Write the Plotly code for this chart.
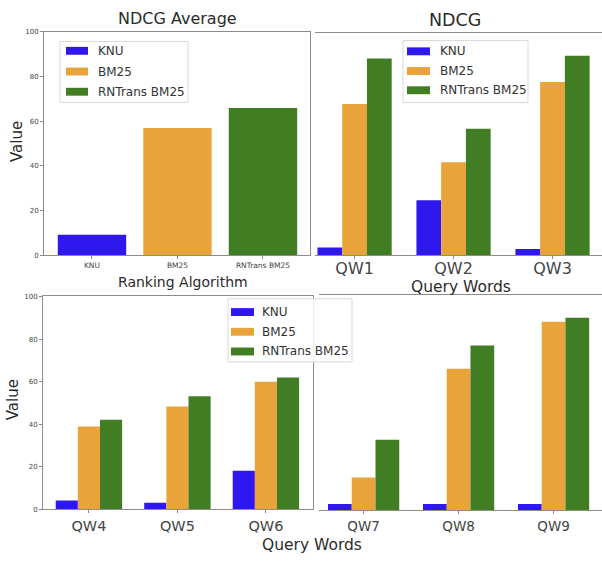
import plotly.graph_objects as go

W, H = 602, 563

# Ranking algorithms and their colours
algorithms = ["KNU", "BM25", "RNTrans BM25"]
colors = ["#2f17ef", "#e8a33b", "#417d22"]

# Average NDCG per algorithm
avg_ndcg = [9.2, 57.0, 66.0]

# NDCG per query word
queries_top = ["QW1", "QW2", "QW3"]
knu_top = [3.5, 24.8, 2.9]
bm25_top = [68.0, 41.8, 77.8]
rntrans_top = [88.4, 56.8, 89.6]

queries_bl = ["QW4", "QW5", "QW6"]
knu_bl = [4.2, 3.1, 18.2]
bm25_bl = [38.9, 48.3, 60.0]
rntrans_bl = [42.1, 53.2, 62.0]

queries_br = ["QW7", "QW8", "QW9"]
knu_br = [2.8, 2.8, 2.8]
bm25_br = [15.2, 65.9, 87.8]
rntrans_br = [32.8, 76.7, 89.6]

y_ticks = [0, 20, 40, 60, 80, 100]

SPINE = "#8c8c8c"
TEXT = "#2b2b2b"
TICK_TEXT = "#444444"
FONT = "DejaVu Sans"


def px(x):
    return x / W


def py(y):
    return 1 - y / H


fig = go.Figure()

# Panel 1: average NDCG
fig.add_trace(go.Bar(x=algorithms, y=avg_ndcg, marker_color=colors,
                     marker_line_width=0, width=0.8, xaxis="x", yaxis="y"))

# Panels 2-4: grouped bars per query word
panels = [
    ("x2", "y2", queries_top, [knu_top, bm25_top, rntrans_top]),
    ("x3", "y3", queries_bl, [knu_bl, bm25_bl, rntrans_bl]),
    ("x4", "y4", queries_br, [knu_br, bm25_br, rntrans_br]),
]
for xa, ya, cats, series in panels:
    for name, col, vals in zip(algorithms, colors, series):
        fig.add_trace(go.Bar(x=cats, y=vals, name=name, marker_color=col,
                             marker_line_width=0, xaxis=xa, yaxis=ya))


def xaxis(domain, rng, anchor, size, standoff=0):
    return dict(domain=domain, range=rng, anchor=anchor, showline=True,
                mirror=True, linecolor=SPINE, linewidth=1, ticks="outside",
                ticklen=3, tickcolor=SPINE, showgrid=False, zeroline=False,
                ticklabelstandoff=standoff,
                tickfont=dict(size=size, color=TICK_TEXT, family=FONT))


def yaxis(domain, anchor, labels=True):
    d = dict(domain=domain, range=[0, 100], anchor=anchor, showgrid=False,
             zeroline=False, fixedrange=True)
    if labels:
        d.update(showline=True, mirror=True, linecolor=SPINE, linewidth=1,
                 ticks="outside", ticklen=3, tickcolor=SPINE, tickvals=y_ticks,
                 tickfont=dict(size=7, color=TICK_TEXT, family=FONT))
    else:
        d.update(showline=False, showticklabels=False, ticks="")
    return d


fig.update_layout(
    width=W, height=H,
    margin=dict(l=0, r=0, t=0, b=0),
    paper_bgcolor="white", plot_bgcolor="white",
    showlegend=False, barmode="group", bargap=0.25, bargroupgap=0,
    font=dict(family=FONT, color=TEXT),
    xaxis=xaxis([px(44), px(310)], [-0.561, 2.55], "y", 7.5),
    yaxis=yaxis([py(255), py(28.3)], "x"),
    xaxis2=xaxis([px(315), 1.0], [-0.40, 2.5], "y2", 16, standoff=-5),
    yaxis2=yaxis([py(255), py(29)], "x2", labels=False),
    xaxis3=xaxis([px(43), px(313)], [-0.519, 2.532], "y3", 14.5),
    yaxis3=yaxis([py(512.7), py(296.7)], "x3"),
    xaxis4=xaxis([px(319), 1.0], [-0.47, 2.51], "y4", 13.5, standoff=1),
    yaxis4=yaxis([py(513.3), py(295.7)], "x4", labels=False),
)

annotations = []
shapes = []


def text(x, y, s, size, angle=0, anchor="center", color=TEXT):
    annotations.append(dict(x=px(x), y=py(y), xref="paper", yref="paper",
                            text=s, showarrow=False, textangle=angle,
                            xanchor=anchor, yanchor="middle",
                            font=dict(size=size, color=color, family=FONT)))


# Titles and axis labels
text(177, 15, "NDCG Average", 16)
text(455, 16, "NDCG", 17.5)
text(17, 140, "Value", 15, angle=-90)
text(13, 402, "Value", 15, angle=-90)
text(182.5, 282, "Ranking Algorithm", 14)
text(461, 287, "Query Words", 15.5)
text(311.5, 549, "Query Words", 15.5)


def legend(box, patch_x, rows, text_x, size=12):
    x0, y0, x1, y1 = box
    shapes.append(dict(type="rect", xref="paper", yref="paper",
                       x0=px(x0), x1=px(x1), y0=py(y1), y1=py(y0),
                       fillcolor="rgba(255,255,255,0.85)",
                       line=dict(color="#d9d9d9", width=1)))
    for name, col, ry in zip(algorithms, colors, rows):
        shapes.append(dict(type="rect", xref="paper", yref="paper",
                           x0=px(patch_x[0]), x1=px(patch_x[1]),
                           y0=py(ry + 4), y1=py(ry - 4),
                           fillcolor=col, line=dict(width=0)))
        text(text_x, ry, name, size, anchor="left", color="#333333")


legend((60, 38, 188, 100), (66, 88), (47.5, 68.5, 89), 96)
legend((403, 37, 528, 100), (407, 430), (48, 68, 87.5), 438)
legend((228, 299, 352, 363), (231, 254), (312.5, 332.5, 352.5), 260)

fig.update_layout(annotations=annotations, shapes=shapes)

fig.write_html("out.html")
